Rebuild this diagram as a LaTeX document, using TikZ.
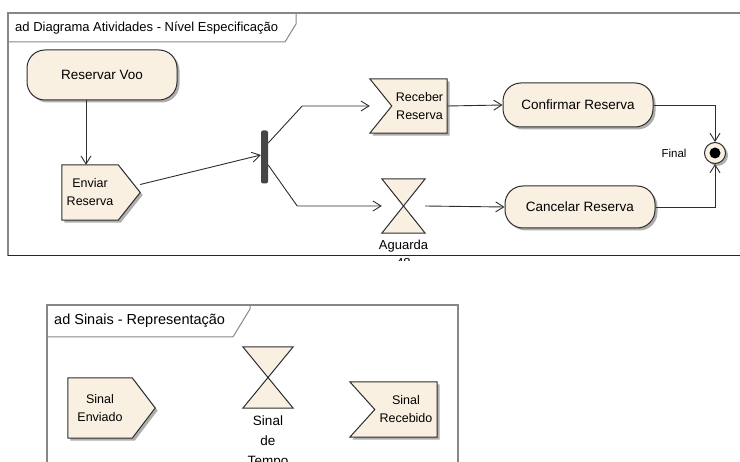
\documentclass[tikz,border=0pt]{standalone}
\usepackage{fontspec}
\setsansfont{Liberation Sans}
\usepackage{tikz}
\usetikzlibrary{arrows.meta,shadows,backgrounds}
\definecolor{act_fill}{RGB}{250,240,226}
\definecolor{act_line}{RGB}{45,45,45}
\definecolor{frame_gray}{RGB}{135,135,135}
\definecolor{bar_gray}{RGB}{70,70,70}

\begin{document}
\begin{tikzpicture}[x=1pt,y=-1pt,>={Straight Barb[length=8pt,width=10pt]}]
    \sffamily
    \tikzstyle{shade}=[drop shadow={shadow xshift=2.5pt,shadow yshift=-2.5pt,fill=black!45,opacity=.7}]
    \tikzstyle{act}=[rectangle,draw=act_line,line width=1,fill=act_fill,rounded corners=18pt,minimum height=44,minimum width=150,text=black,font=\fontsize{13.5}{17}\selectfont,shade]
    \tikzstyle{sigtext}=[draw=none,inner sep=0,align=center,font=\fontsize{12.5}{18}\selectfont]
    \tikzstyle{outline}=[draw=act_line,line width=1,fill=act_fill]
    \tikzstyle{timer}=[draw=none,inner sep=0]
    \tikzstyle{title}=[anchor=west,inner sep=0]
    \tikzstyle{wire}=[->,draw=act_line,line width=0.9]

    \useasboundingbox (0,0) rectangle (740,462);

    % upper frame
    \draw[frame_gray,line width=1.2] (745,13) -- (8,13) -- (8,256);
    \draw[black!85,line width=1] (8,256) -- (745,256);
    \draw[frame_gray,line width=1] (8,42) -- (285,42) -- (296,24) -- (296,13);
    \node[title,font=\fontsize{13}{15}\selectfont] (ttl1) at (15,28) {ad Diagrama Atividades - Nível Especificação};

    \node[act,minimum height=50] (voo) at (102,75) {Reservar Voo};
    % send signal: body is the node, tip sticks out to the right
    \node[sigtext,minimum width=56,minimum height=55] (env) at (90,192.5) {Enviar\\Reserva};
    \coordinate (envtip) at ([xshift=22pt]env.east);
    \node[fill=bar_gray,rounded corners=2pt,minimum width=7,minimum height=53,inner sep=0] (fork) at (264.5,157) {};
    % accept event: text sits right of the notch
    \node[sigtext,minimum width=55,minimum height=54] (rec) at (419.5,106) {Receber\\Reserva};
    \coordinate (recin) at ([xshift=-22pt]rec.west);
    \node[timer,minimum width=43,minimum height=54] (agu) at (403.5,206) {};
    \filldraw[outline]
      (agu.north west) -- (agu.north east) -- (agu.south west) -- (agu.south east) -- cycle;
    \begin{scope}
      \clip (360,236) rectangle (450,261);
      \node[align=center,font=\fontsize{13}{18}\selectfont,anchor=north,inner sep=0] (agulbl) at ([yshift=-7pt]agu.south) {Aguarda\\48};
    \end{scope}
    \node[act] (conf) at (578,105) {Confirmar Reserva};
    \node[act,minimum height=42] (canc) at (580,207) {Cancelar Reserva};
    \node[circle,draw=act_line,line width=1,fill=act_fill,minimum size=21,inner sep=0,shade] (fim) at (715,153) {};
    \fill[black] (fim) circle (5.5);
    \node[anchor=east,font=\fontsize{11.5}{13}\selectfont] (fimlbl) at (690,153) {Final};

    \begin{scope}[on background layer]
      \filldraw[outline,shade] (env.north west) -- (env.north east) -- (envtip)
        -- (env.south east) -- (env.south west) -- cycle;
      \filldraw[outline,shade] ([xshift=-22pt]rec.north west) -- (rec.north east) -- (rec.south east)
        -- ([xshift=-22pt]rec.south west) -- (rec.west) -- cycle;
    \end{scope}

    \draw[wire] ([xshift=-16pt]voo.south) -- ([xshift=-16pt]voo.south |- env.north);
    \draw[wire] ([yshift=8pt]envtip) -- ([yshift=2pt]fork.west);
    \draw[wire] ([yshift=14pt]fork.east) -- ([xshift=34pt]fork.east |- recin) -- (recin);
    \draw[wire] ([yshift=-8pt]fork.east) -- ([xshift=29pt]fork.east |- agu.west) -- (agu.west);
    \draw[wire] (rec.east) -- (conf.west);
    \draw[wire] (agu.east) -- (canc.west);
    \draw[wire] (conf.east) -| (fim.north);
    \draw[wire] (canc.east) -| (fim.south);

    % lower frame
    \draw[frame_gray,line width=1.2] (47,470) -- (47,305) -- (458,305) -- (458,470);
    \draw[frame_gray,line width=1] (47,337) -- (233,337) -- (250,309) -- (250,305);
    \node[title,font=\fontsize{14.5}{16}\selectfont] (ttl2) at (54,321) {ad Sinais - Representação};

    \node[sigtext,minimum width=64,minimum height=60] (se) at (100,408) {Sinal\\Enviado};
    \coordinate (setip) at ([xshift=23pt]se.east);
    \node[timer,minimum width=50,minimum height=61] (st) at (268,377.5) {};
    \filldraw[outline]
      (st.north west) -- (st.north east) -- (st.south west) -- (st.south east) -- cycle;
    \node[align=center,font=\fontsize{13.5}{20}\selectfont,anchor=north,inner sep=0] (stlbl) at ([yshift=-7pt]st.south) {Sinal\\de\\Tempo};
    \node[sigtext,minimum width=62,minimum height=55] (sr) at (406,409.5) {Sinal\\Recebido};

    \begin{scope}[on background layer]
      \filldraw[outline,shade] (se.north west) -- (se.north east) -- (setip)
        -- (se.south east) -- (se.south west) -- cycle;
      \filldraw[outline,shade] ([xshift=-25pt]sr.north west) -- (sr.north east) -- (sr.south east)
        -- ([xshift=-25pt]sr.south west) -- (sr.west) -- cycle;
    \end{scope}
\end{tikzpicture}
\end{document}
